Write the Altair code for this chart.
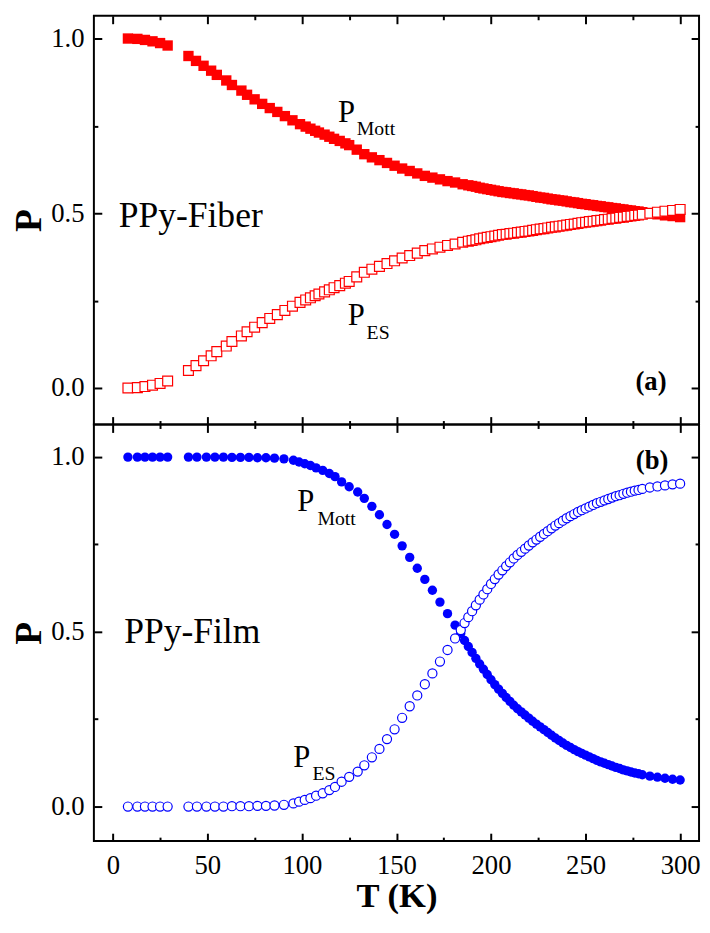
import altair as alt
import pandas as pd

# ---------------- data ----------------
T_fiber = [8, 13, 17, 21, 25, 29,
           40, 44, 48, 52, 55, 60, 63, 68, 71, 75, 79, 83, 87, 91, 95, 99,
           102, 104.5, 107, 109, 112, 114.5, 117, 120, 123, 125,
           129, 133, 137, 141, 145, 149, 153, 157, 161, 165, 169, 173, 177, 181, 185,
           188, 190, 192, 194, 196, 198, 200, 202, 204, 206, 208, 210, 212, 214, 216,
           218, 220, 222, 224, 226, 228, 230, 232, 234, 236, 238, 240, 242, 244, 246, 248,
           250, 252, 254, 256, 258, 260, 262, 264, 266, 268, 270, 272, 274, 276, 278, 280,
           284, 288, 292, 296, 300]
P_mott_fiber = [1.000, 0.999, 0.996, 0.992, 0.987, 0.980,
                0.950, 0.936, 0.922, 0.908, 0.896, 0.880, 0.867, 0.851, 0.839, 0.826, 0.813, 0.801, 0.790, 0.778, 0.766, 0.755,
                0.748, 0.742, 0.736, 0.731, 0.725, 0.719, 0.713, 0.707, 0.700, 0.695,
                0.682, 0.669, 0.660, 0.652, 0.644, 0.636, 0.628, 0.621, 0.614, 0.607, 0.602, 0.597, 0.592, 0.588, 0.583,
                0.580, 0.578, 0.576, 0.573, 0.571, 0.569, 0.567, 0.565, 0.563, 0.561, 0.560, 0.558, 0.557, 0.555, 0.554,
                0.552, 0.551, 0.549, 0.547, 0.545, 0.544, 0.542, 0.540, 0.539, 0.537, 0.536, 0.534, 0.532, 0.531, 0.529, 0.527,
                0.526, 0.524, 0.523, 0.521, 0.520, 0.518, 0.517, 0.515, 0.514, 0.512, 0.511, 0.509, 0.508, 0.506, 0.505, 0.503,
                0.500, 0.497, 0.494, 0.492, 0.489]
P_es_fiber = [0.000, 0.001, 0.004, 0.008, 0.013, 0.020,
              0.050, 0.064, 0.078, 0.092, 0.104, 0.120, 0.133, 0.149, 0.161, 0.174, 0.187, 0.199, 0.210, 0.222, 0.234, 0.245,
              0.252, 0.258, 0.264, 0.269, 0.275, 0.281, 0.287, 0.293, 0.300, 0.305,
              0.318, 0.331, 0.340, 0.348, 0.356, 0.364, 0.372, 0.379, 0.386, 0.393, 0.398, 0.403, 0.408, 0.412, 0.417,
              0.420, 0.422, 0.424, 0.427, 0.429, 0.431, 0.433, 0.435, 0.437, 0.439, 0.440, 0.442, 0.443, 0.445, 0.446,
              0.448, 0.449, 0.451, 0.453, 0.455, 0.456, 0.458, 0.460, 0.461, 0.463, 0.464, 0.466, 0.468, 0.469, 0.471, 0.473,
              0.474, 0.476, 0.477, 0.479, 0.480, 0.482, 0.483, 0.485, 0.486, 0.488, 0.489, 0.491, 0.492, 0.494, 0.495, 0.497,
              0.500, 0.503, 0.506, 0.508, 0.511]

T_film = [8, 13, 17, 21, 25, 29,
          40, 44.5, 49.5, 54, 58.5, 63, 67.5, 72, 76.5, 81, 85.5, 90.5, 95.5, 98.5, 101.5, 104.5, 107.5, 111,
          114.5, 117.5, 121, 125, 129.5, 133, 137, 141, 145, 149, 153, 157, 161, 165, 169, 173, 177, 181,
          184, 186, 188, 190, 192, 194, 196, 198, 200, 202, 204, 206, 208, 210, 212, 214, 216,
          218, 220, 222, 224, 226, 228, 230, 232, 234, 236, 238, 240, 242, 244, 246, 248,
          250, 252, 254, 256, 258, 260, 262, 264, 266, 268, 270, 272, 274, 276, 278, 280,
          284, 288, 292, 296, 300]
P_mott_film = [1.000, 1.000, 1.000, 1.000, 1.000, 1.000,
               1.000, 1.000, 1.000, 1.000, 1.000, 0.999, 0.999, 0.999, 0.998, 0.998, 0.997, 0.995, 0.991, 0.986, 0.981, 0.976, 0.969, 0.962,
               0.953, 0.944, 0.929, 0.915, 0.900, 0.882, 0.859, 0.835, 0.807, 0.779, 0.746, 0.713, 0.682, 0.650, 0.619, 0.585, 0.552, 0.519,
               0.495, 0.475, 0.458, 0.441, 0.424, 0.408, 0.393, 0.378, 0.363, 0.349, 0.336, 0.324, 0.312, 0.301, 0.290, 0.280, 0.271,
               0.262, 0.253, 0.244, 0.236, 0.228, 0.220, 0.212, 0.204, 0.196, 0.189, 0.182, 0.175, 0.169, 0.163, 0.157, 0.152,
               0.147, 0.142, 0.137, 0.132, 0.128, 0.124, 0.120, 0.116, 0.112, 0.109, 0.105, 0.102, 0.099, 0.096, 0.094, 0.091,
               0.087, 0.084, 0.081, 0.078, 0.076]
P_es_film = [0.000, 0.000, 0.000, 0.000, 0.000, 0.000,
             0.000, 0.000, 0.000, 0.000, 0.000, 0.001, 0.001, 0.001, 0.002, 0.002, 0.003, 0.005, 0.009, 0.014, 0.019, 0.024, 0.031, 0.038,
             0.047, 0.056, 0.071, 0.085, 0.100, 0.118, 0.141, 0.165, 0.193, 0.221, 0.254, 0.287, 0.318, 0.350, 0.381, 0.415, 0.448, 0.481,
             0.505, 0.525, 0.542, 0.559, 0.576, 0.592, 0.607, 0.622, 0.637, 0.651, 0.664, 0.676, 0.688, 0.699, 0.710, 0.720, 0.729,
             0.738, 0.747, 0.756, 0.764, 0.772, 0.780, 0.788, 0.796, 0.804, 0.811, 0.818, 0.825, 0.831, 0.837, 0.843, 0.848,
             0.853, 0.858, 0.863, 0.868, 0.872, 0.876, 0.880, 0.884, 0.888, 0.891, 0.895, 0.898, 0.901, 0.904, 0.906, 0.909,
             0.913, 0.916, 0.919, 0.922, 0.924]

# axis ticks
x_major = [0, 50, 100, 150, 200, 250, 300]
x_minor = [25, 75, 125, 175, 225, 275]
y_major = [0.0, 0.5, 1.0]
y_minor = [0.25, 0.75]

# annotations (text, T, P)
fiber_name = ["PPy-Fiber"]; fiber_name_T = [3.1]; fiber_name_P = [0.460]
fiber_big = ["P", "P"]; fiber_big_T = [119.1, 124.3]; fiber_big_P = [0.760, 0.181]
fiber_sub = ["Mott", "ES"]; fiber_sub_T = [129.0, 134.2]; fiber_sub_P = [0.723, 0.139]
fiber_tag = ["(a)"]; fiber_tag_T = [292.8]; fiber_tag_P = [-0.006]

film_name = ["PPy-Film"]; film_name_T = [6.0]; film_name_P = [0.469]
film_big = ["P", "P"]; film_big_T = [97.5, 95.4]; film_big_P = [0.847, 0.113]
film_sub = ["Mott", "ES"]; film_sub_T = [108.2, 105.6]; film_sub_P = [0.805, 0.075]
film_tag = ["(b)"]; film_tag_T = [293.8]; film_tag_P = [0.966]

SERIF = "Liberation Serif"
RED = "#ff0000"
BLUE = "#0000ff"
W = 613
TXT = dict(labelFont=SERIF, labelFontSize=27, labelColor="black",
           titleFont=SERIF, titleColor="black", titleFontWeight="bold")


def tick_axis(edge, values, size, W, H):
    """Inward-pointing tick-only axis placed on a plot edge."""
    if edge == "bottom":
        orient, off = "top", H
    elif edge == "top":
        orient, off = "bottom", H
    elif edge == "left":
        orient, off = "right", W
    else:
        orient, off = "left", W
    return alt.Axis(orient=orient, offset={"expr": str(-off)}, values=values,
                    tickSize=size, tickColor="black", tickWidth=2,
                    labels=False, domain=False, grid=False, title=None,
                    minExtent=0, maxExtent=0)


def panel(T, mott, es, color, shape, s_fill, s_open, ydom, height,
          name, big, sub, tag, last):
    H = height
    xs = alt.Scale(domain=[-10, 310], nice=False, zero=False)
    ys = alt.Scale(domain=ydom, nice=False, zero=False)
    d_f = pd.DataFrame({"T": T, "P": mott})
    d_o = pd.DataFrame({"T": T, "P": es})

    if last:
        xl = alt.Axis(orient="bottom", values=x_major, ticks=False, domain=False,
                      grid=False, labelPadding=12, labelFlush=False,
                      title="T (K)", titlePadding=0, titleFontSize=35, **TXT)
    else:
        xl = None
    yl = alt.Axis(orient="left", values=y_major, ticks=False, domain=False,
                  grid=False, format=".1f", labelPadding=10, title="P",
                  titlePadding=2, titleFontSize=38, **TXT)

    filled = alt.Chart(d_f).mark_point(shape=shape, filled=True, size=s_fill,
                                       color=color, opacity=1).encode(
        x=alt.X("T:Q", scale=xs, axis=xl),
        y=alt.Y("P:Q", scale=ys, axis=yl))
    opened = alt.Chart(d_o).mark_point(shape=shape, filled=False, fill="white",
                                       fillOpacity=1, stroke=color, strokeWidth=1.2,
                                       size=s_open, opacity=1).encode(
        x=alt.X("T:Q", scale=xs, axis=tick_axis("bottom", x_major, 8, W, H)),
        y=alt.Y("P:Q", scale=ys, axis=tick_axis("left", y_major, 8, W, H)))

    def tdf(t):
        return pd.DataFrame({"label": t[0], "T": t[1], "P": t[2]})

    name_l = alt.Chart(tdf(name)).mark_text(font=SERIF, fontSize=36, align="left",
                                            baseline="alphabetic", color="black").encode(
        x=alt.X("T:Q", scale=xs, axis=tick_axis("bottom", x_minor, 4, W, H)),
        y=alt.Y("P:Q", scale=ys, axis=tick_axis("left", y_minor, 4, W, H)),
        text="label:N")
    sub_l = alt.Chart(tdf(sub)).mark_text(font=SERIF, fontSize=20, align="left",
                                          baseline="alphabetic", color="black").encode(
        x=alt.X("T:Q", scale=xs, axis=tick_axis("top", x_major, 8, W, H)),
        y=alt.Y("P:Q", scale=ys, axis=tick_axis("right", y_major, 8, W, H)),
        text="label:N")
    big_l = alt.Chart(tdf(big)).mark_text(font=SERIF, fontSize=31, align="left",
                                          baseline="alphabetic", color="black").encode(
        x=alt.X("T:Q", scale=xs, axis=tick_axis("top", x_minor, 4, W, H)),
        y=alt.Y("P:Q", scale=ys, axis=tick_axis("right", y_minor, 4, W, H)),
        text="label:N")
    tag_l = alt.Chart(tdf(tag)).mark_text(font=SERIF, fontSize=27, fontWeight="bold",
                                          align="right", baseline="alphabetic",
                                          color="black").encode(
        x=alt.X("T:Q", scale=xs, axis=None),
        y=alt.Y("P:Q", scale=ys, axis=None),
        text="label:N")

    return alt.layer(filled, opened, name_l, sub_l, big_l, tag_l).resolve_axis(
        x="independent", y="independent").properties(width=W, height=H)


top = panel(T_fiber, P_mott_fiber, P_es_fiber, RED, "square", 110, 100,
            [-0.1045, 1.065], 414,
            (fiber_name, fiber_name_T, fiber_name_P),
            (fiber_big, fiber_big_T, fiber_big_P),
            (fiber_sub, fiber_sub_T, fiber_sub_P),
            (fiber_tag, fiber_tag_T, fiber_tag_P), last=False)
bottom = panel(T_film, P_mott_film, P_es_film, BLUE, "circle", 90, 85,
               [-0.0989, 1.0932], 422,
               (film_name, film_name_T, film_name_P),
               (film_big, film_big_T, film_big_P),
               (film_sub, film_sub_T, film_sub_P),
               (film_tag, film_tag_T, film_tag_P), last=True)

chart = alt.vconcat(top, bottom, spacing=0, bounds="flush").properties(
    padding={"left": 2, "top": 0, "right": 0, "bottom": 0},
    background="white"
).configure_view(stroke="black", strokeWidth=2)

chart.save("out.html", embed_options={"renderer": "svg", "actions": False})
